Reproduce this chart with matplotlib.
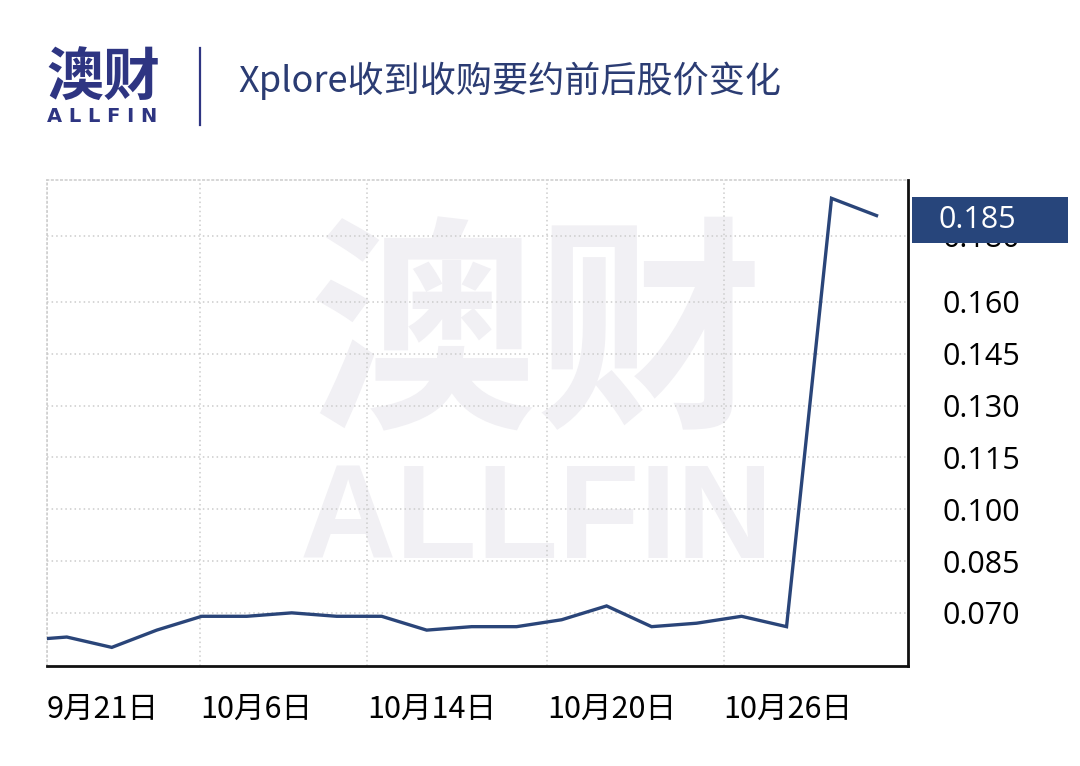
import numpy as np
import matplotlib
matplotlib.use("Agg")
import matplotlib.pyplot as plt
from matplotlib.patches import Rectangle
from matplotlib.transforms import blended_transform_factory

plt.rcParams['font.family'] = ['Noto Sans CJK SC', 'DejaVu Sans']

# ===== 数据 =====
# 每日收盘价 (澳元)，第一个点在坐标轴左侧之外
prices = [0.062, 0.063, 0.060, 0.065, 0.069, 0.069, 0.070, 0.069, 0.069,
          0.065, 0.066, 0.066, 0.068, 0.072, 0.066, 0.067, 0.069, 0.066,
          0.190, 0.185]
date_labels = ['9月21日', '10月6日', '10月14日', '10月20日', '10月26日']
date_pos = [0.56, 3.96, 7.67, 11.67, 15.6]
y_ticks = [0.070, 0.085, 0.100, 0.115, 0.130, 0.145, 0.160, 0.1792]
y_labels = ['0.070', '0.085', '0.100', '0.115', '0.130', '0.145', '0.160', '0.180']

navy = '#2a4579'
logo_navy = '#2e3582'

fig = plt.figure(figsize=(10.8, 7.66), dpi=100)
fig.patch.set_facecolor('white')

# ===== 水印 =====
fig.text(0.497, 0.552, '澳财', fontsize=164, fontweight='bold', color='#f1f0f4',
         ha='center', va='center', zorder=0)
fig.text(0.497, 0.316, 'ALLFIN', fontsize=96, fontweight='bold', color='#f1f0f4',
         ha='center', va='center', family='Liberation Sans', zorder=0)

ax = fig.add_axes([47 / 1080, 1 - 665.7 / 766, (908 - 47) / 1080, (665.7 - 180) / 766])
ax.patch.set_alpha(0)
ax.set_zorder(2)

x = np.arange(len(prices))
ax.plot(x, prices, color=navy, linewidth=2.4, solid_joinstyle='miter', zorder=3)

ax.set_xlim(0.56, 19.7)
ax.set_ylim(0.0547, 0.1953)

ax.set_xticks(date_pos)
ax.set_xticklabels(date_labels, ha='left', fontsize=22)
ax.set_yticks(y_ticks)
ax.set_yticklabels(y_labels, fontsize=22, ha='left', family='Open Sans')
ax.yaxis.tick_right()
ax.tick_params(axis='both', length=0)
ax.tick_params(axis='y', pad=25)
ax.tick_params(axis='x', pad=20)

ax.grid(True, linestyle=(0, (1, 2)), color='#cccccc', linewidth=1.1)
ax.set_axisbelow(True)
for side in ['top', 'left']:
    ax.spines[side].set_linestyle((0, (1, 2)))
    ax.spines[side].set_color('#cccccc')
    ax.spines[side].set_linewidth(1.1)
for side in ['bottom', 'right']:
    ax.spines[side].set_color('#111111')
    ax.spines[side].set_linewidth(2)

# ===== 最新价标签 =====
last = prices[-1]
trans = blended_transform_factory(fig.transFigure, ax.transData)
box_h = 0.0133
ax.add_patch(Rectangle((912 / 1080, last - box_h / 2 - 0.0012), 156 / 1080, box_h,
                       transform=trans, facecolor='#27457b', edgecolor='none',
                       clip_on=False, zorder=5))
ax.text(938 / 1080, last - 0.0012, f'{last:.3f}', transform=trans, color='white',
        fontsize=22, family='Open Sans', ha='left', va='center', zorder=6,
        clip_on=False)

# ===== 标题与标志 =====
fig.text(46 / 1080, 1 - 79 / 766, '澳财', fontsize=41, fontweight='bold',
         color=logo_navy, ha='left', va='center')
fig.text(47 / 1080, 1 - 117 / 766, 'A L L F I N', fontsize=14, fontweight='bold',
         color=logo_navy, ha='left', va='center', family='DejaVu Sans')
fig.add_artist(plt.Line2D([200 / 1080, 200 / 1080], [1 - 48 / 766, 1 - 125 / 766],
                          color=logo_navy, linewidth=1.6, transform=fig.transFigure))
fig.text(238 / 1080, 1 - 81 / 766, 'Xplore收到收购要约前后股价变化', fontsize=26,
         fontweight='light', color='#2b3c73', ha='left', va='center')

fig.savefig('out.png', dpi=100, facecolor='white')
